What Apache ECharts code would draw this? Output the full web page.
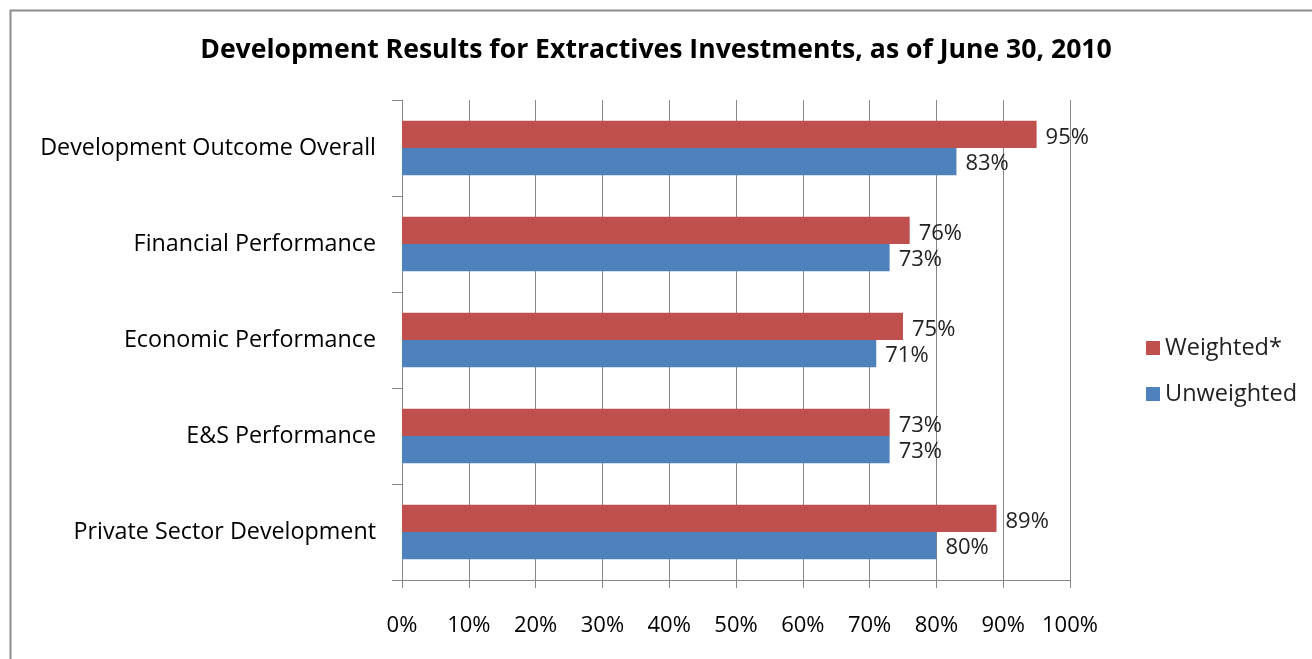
<!DOCTYPE html>
<html><head><meta charset="utf-8">
<script src="https://cdn.jsdelivr.net/npm/echarts@6/dist/echarts.min.js"></script>
<style>html,body{margin:0;padding:0;background:#fff}#c{width:1312px;height:659px}</style>
</head><body><div id="c"></div>
<script>
const categories = ['Development Outcome Overall','Financial Performance','Economic Performance','E&S Performance','Private Sector Development'];
const weighted = [95, 76, 75, 73, 89];
const unweighted = [83, 73, 71, 73, 80];
const xTicks = [0,10,20,30,40,50,60,70,80,90,100];
const FONT = 'Open Sans';
const chart = echarts.init(document.getElementById('c'));
chart.setOption({
  animation:false,
  title:{text:'Development Results for Extractives Investments, as of June 30, 2010',left:'center',top:32,
    textStyle:{fontFamily:FONT,fontWeight:'bold',fontSize:26.6,color:'#000'}},
  graphic:[{type:'rect',shape:{x:10.5,y:10.5,width:1320,height:700},style:{fill:'none',stroke:'#8c8c8c',lineWidth:2},silent:true,z:-1}],
  legend:{orient:'vertical',left:1141,top:331,itemWidth:14,itemHeight:14,itemGap:22,icon:'rect',
    textStyle:{fontFamily:FONT,fontSize:23.5,color:'#222'},data:['Weighted*','Unweighted']},
  grid:{left:402,right:242,top:100,bottom:79,containLabel:false},
  xAxis:{type:'value',min:0,max:100,interval:10,
    axisLine:{show:true,lineStyle:{color:'#868686'}},
    axisTick:{show:true,length:8,lineStyle:{color:'#868686'}},
    splitLine:{show:true,lineStyle:{color:'#868686'}},
    axisLabel:{fontFamily:FONT,fontSize:22,color:'#000',margin:35,formatter:v=>xTicks.includes(v)?v+'%':''}},
  yAxis:{type:'category',data:categories,inverse:true,
    axisLine:{show:true,lineStyle:{color:'#868686'}},
    axisTick:{show:true,length:10,lineStyle:{color:'#868686'}},
    axisLabel:{fontFamily:FONT,fontSize:23.3,color:'#000',margin:26}},
  series:[
    {name:'Weighted*',type:'bar',data:weighted,barCategoryGap:'43%',barGap:'0%',
      itemStyle:{color:'#c0504d'},
      label:{show:true,position:'right',distance:9,offset:[0,3],formatter:'{c}%',fontFamily:FONT,fontSize:22,color:'#222'}},
    {name:'Unweighted',type:'bar',data:unweighted,barCategoryGap:'43%',barGap:'0%',
      itemStyle:{color:'#4f81bd'},
      label:{show:true,position:'right',distance:9,offset:[0,2],formatter:'{c}%',fontFamily:FONT,fontSize:22,color:'#222'}}
  ]
});
</script></body></html>
